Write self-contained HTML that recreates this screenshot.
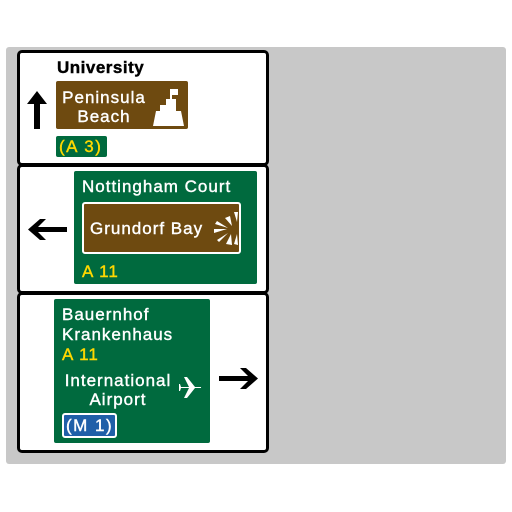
<!DOCTYPE html>
<html><head><meta charset="utf-8"><style>
body{margin:0;width:512px;height:512px;background:#fff;position:relative;overflow:hidden;font-family:"Liberation Sans","DejaVu Sans",sans-serif}
div,span{position:absolute;box-sizing:border-box}
.panel{background:#fff;border:3px solid #000;border-radius:5px;left:17px;width:252px}
.t{color:#fff;font-size:17px;white-space:nowrap;line-height:1;letter-spacing:1px;-webkit-text-stroke:0.4px currentColor}
.y{color:#ffd800}
.g{background:#006a3e;border-radius:2px}
.b{background:#6e4a10;border-radius:2px}
</style></head><body>
<div style="left:6px;top:47px;width:500px;height:417px;background:#c8c8c8;border-radius:3px"></div>

<div class="panel" style="top:50px;height:116px"></div>
<div class="panel" style="top:164px;height:130px"></div>
<div class="panel" style="top:292px;height:161px"></div>

<!-- panel 1 -->
<div class="t" style="left:57px;top:59px;color:#000;font-weight:bold;letter-spacing:0.5px">University</div>
<div class="b" style="left:56px;top:81px;width:132px;height:48px"></div>
<div class="t" style="left:58px;top:88px;width:92px;text-align:center;line-height:19px">Peninsula<br>Beach</div>
<svg style="position:absolute;left:150px;top:86px" width="34" height="40"><path d="M3 40L6 25h4v-6h6v-6h4V3h2v10h4v12h5l3 15z" fill="#fff"/><path d="M22 3h6v6h-6z" fill="#fff"/></svg>
<svg style="position:absolute;left:27px;top:91px" width="20" height="38"><path d="M10 0L0 13h7v25h6V13h7z" fill="#000"/></svg>
<div class="g" style="left:56px;top:136px;width:51px;height:21px"></div>
<div class="t y" style="left:59px;top:138px;letter-spacing:1.5px">(A 3)</div>

<!-- panel 2 -->
<div class="g" style="left:74px;top:171px;width:183px;height:113px"></div>
<div class="t" style="left:82px;top:178px">Nottingham Court</div>
<div class="b" style="left:82px;top:202px;width:159px;height:52px;border:2px solid #fff;border-radius:3px"></div>
<div class="t" style="left:90px;top:220px">Grundorf Bay</div>
<svg style="position:absolute;left:212px;top:210px" width="28" height="36"><g fill="#fff"><path d="M22 2l4 0-1 10z"/><path d="M13 8l5 -2 2 10z"/><path d="M3 14l2-3 11 7z"/><path d="M2 19l13 0-13 4z"/><path d="M5 30l11-7-9 9z"/><path d="M14 34l5-10 1 11z"/><path d="M22 34l3-10 1 11z"/></g></svg>
<div class="t y" style="left:82px;top:263px">A 11</div>
<svg style="position:absolute;left:28px;top:219px" width="40" height="21"><path d="M0 10.5L12 0h6l-8 8h29v5H10l8 8h-6z" fill="#000"/></svg>

<!-- panel 3 -->
<div class="g" style="left:54px;top:299px;width:156px;height:144px"></div>
<div class="t" style="left:62px;top:306px">Bauernhof</div>
<div class="t" style="left:62px;top:326px">Krankenhaus</div>
<div class="t y" style="left:62px;top:346px">A 11</div>
<div class="t" style="left:61px;top:371px;width:114px;text-align:center;line-height:19px">International<br>Airport</div>
<svg style="position:absolute;left:179px;top:375px" width="24" height="24"><path d="M2 12h8l-5-10h3l8 10h6a2 2 0 0 1 0 1h-6l-8 10h-3l5-10H2l-1 3H0v-7h1z" fill="#fff"/></svg>
<div style="left:62px;top:413px;width:55px;height:25px;background:#1f5fa8;border:2px solid #fff;border-radius:3px"></div>
<div class="t" style="left:66px;top:417px;letter-spacing:1.5px">(M 1)</div>
<svg style="position:absolute;left:219px;top:368px" width="40" height="21"><path d="M39 10.5L27 0h-6l8 8H0v5h29l-8 8h6z" fill="#000"/></svg>
</body></html>
